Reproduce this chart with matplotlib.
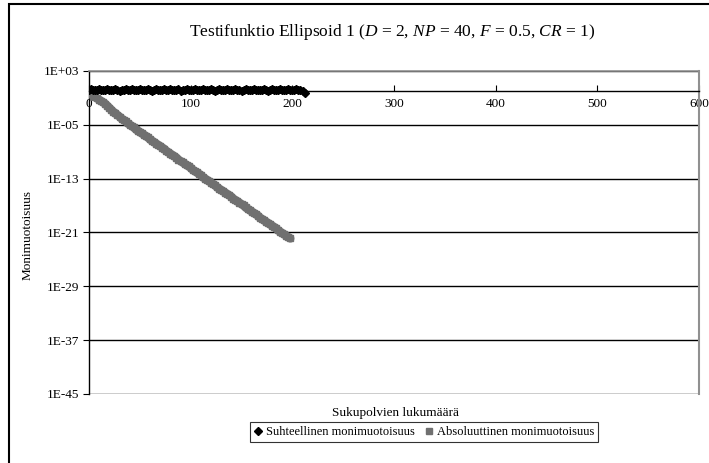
import numpy as np
import matplotlib
matplotlib.use("Agg")
import matplotlib.pyplot as plt
from matplotlib.patches import Rectangle
from matplotlib.lines import Line2D

plt.rcParams['font.family'] = ['Liberation Serif', 'DejaVu Serif']
plt.rcParams['mathtext.fontset'] = 'custom'
plt.rcParams['mathtext.rm'] = 'Liberation Serif'
plt.rcParams['mathtext.it'] = 'Liberation Serif:italic'

# sukupolvet (joka toinen) ja monimuotoisuuden log10-arvot
gen_rel = list(range(0, 214, 2))
log_rel = [0.20, 0.25, 0.20, 0.15, 0.20, 0.25, 0.20, 0.10, 0.20, 0.25,
           0.20, 0.15, 0.20, 0.25, 0.20, 0.05, 0.20, 0.20, 0.25, 0.15,
           0.20, 0.25, 0.20, 0.10, 0.20, 0.25, 0.20, 0.20, 0.15, 0.25,
           0.20, 0.05, 0.20, 0.25, 0.20, 0.20, 0.10, 0.25, 0.20, 0.20,
           0.25, 0.15, 0.20, 0.20, 0.25, 0.05, 0.20, 0.20, 0.25, 0.20,
           0.15, 0.20, 0.25, 0.20, 0.10, 0.20, 0.25, 0.20, 0.20, 0.15,
           0.25, 0.20, 0.05, 0.20, 0.25, 0.20, 0.20, 0.10, 0.25, 0.20,
           0.20, 0.15, 0.25, 0.20, 0.20, 0.05, 0.20, 0.25, 0.20, 0.15,
           0.20, 0.25, 0.20, 0.10, 0.20, 0.20, 0.25, 0.20, 0.05, 0.20,
           0.25, 0.20, 0.15, 0.20, 0.25, 0.20, 0.10, 0.20, 0.25, 0.20,
           0.20, 0.15, 0.25, 0.20, 0.20, 0.05, -0.35]

gen_abs = list(range(0, 200, 2))
log_abs = [-0.2, -0.5, -0.7, -0.9, -1.1, -1.3, -1.5, -1.7, -1.9, -2.2,
           -2.5, -2.8, -3.1, -3.3, -3.6, -3.8, -4.1, -4.3, -4.5, -4.8,
           -5.0, -5.2, -5.4, -5.7, -5.9, -6.1, -6.3, -6.5, -6.7, -6.9,
           -7.2, -7.4, -7.6, -7.8, -8.0, -8.2, -8.4, -8.6, -8.9, -9.1,
           -9.3, -9.5, -9.7, -9.9, -10.2, -10.4, -10.6, -10.8, -11.0, -11.2,
           -11.4, -11.7, -11.9, -12.1, -12.3, -12.5, -12.8, -13.0, -13.2, -13.4,
           -13.6, -13.8, -14.0, -14.3, -14.5, -14.7, -14.9, -15.1, -15.3, -15.5,
           -15.7, -16.0, -16.2, -16.4, -16.6, -16.8, -17.0, -17.3, -17.5, -17.7,
           -17.9, -18.1, -18.3, -18.5, -18.8, -19.0, -19.2, -19.4, -19.6, -19.8,
           -20.0, -20.2, -20.4, -20.7, -20.9, -21.1, -21.3, -21.5, -21.7, -21.9]

ytick_exp = [3, -5, -13, -21, -29, -37, -45]
ytick_labels = ['1E+03', '1E-05', '1E-13', '1E-21', '1E-29', '1E-37', '1E-45']
xticks = [0, 100, 200, 300, 400, 500, 600]

fig = plt.figure(figsize=(7.09, 4.63), dpi=100)
ax = fig.add_axes([89 / 709, 1 - 394 / 463, 610 / 709, (394 - 70.8) / 463])

gray = '#707070'
y_abs = 10.0 ** np.array(log_abs)
y_rel = 10.0 ** np.array(log_rel)
# tiheät merkit piirtyvät yhtenäiseksi nauhaksi
ax.plot(gen_abs, y_abs, linestyle='-', linewidth=6, solid_capstyle='round',
        color=gray, zorder=3)
ax.plot(gen_abs, y_abs, linestyle='none', marker='s', markersize=5,
        color=gray, markeredgecolor=gray, zorder=4)
ax.plot(gen_rel, y_rel, linestyle='-', linewidth=3.5, color='black', zorder=5)
ax.plot(gen_rel, y_rel, linestyle='none', marker='D', markersize=3.8,
        color='black', zorder=6)

ax.set_yscale('log')
ax.set_ylim(1e-45, 1e3)
ax.set_xlim(0, 600)
ax.set_yticks([10.0 ** e for e in ytick_exp])
ax.set_yticklabels(ytick_labels)
ax.yaxis.set_minor_locator(matplotlib.ticker.NullLocator())
ax.set_xticks(xticks)
ax.set_xticklabels([str(t) for t in xticks])

for e in ytick_exp:
    ax.axhline(10.0 ** e, color='black', linewidth=1.0, zorder=1)

ax.spines['bottom'].set_position(('data', 1))
ax.spines['bottom'].set_linewidth(1.0)
ax.spines['left'].set_linewidth(1.0)
ax.spines['top'].set_color('#909090')
ax.spines['right'].set_color('#909090')
ax.spines['top'].set_linewidth(1.2)
ax.spines['right'].set_linewidth(1.5)

ax.tick_params(axis='x', direction='in', length=4, labelsize=9.5, pad=5)
ax.tick_params(axis='y', direction='out', length=4, labelsize=9.5, pad=3)

fig.text(392 / 709, 1 - 32 / 463,
         r'Testifunktio Ellipsoid 1 ($D$ = 2, $NP$ = 40, $F$ = 0.5, $CR$ = 1)',
         ha='center', va='center', fontsize=12.5)
fig.text(395 / 709, 1 - 413 / 463, 'Sukupolvien lukumäärä',
         ha='center', va='center', fontsize=9.5)
fig.text(28 / 709, 1 - 235 / 463, 'Monimuotoisuus', rotation=90,
         ha='center', va='center', fontsize=9.5)

handles = [Line2D([], [], linestyle='none', marker='D', markersize=4, color='black'),
           Line2D([], [], linestyle='none', marker='s', markersize=5, color=gray)]
leg = fig.legend(handles, ['Suhteellinen monimuotoisuus', 'Absoluuttinen monimuotoisuus'],
                 loc='center', bbox_to_anchor=(424 / 709, 1 - 432 / 463), ncol=2,
                 fontsize=9, frameon=True, fancybox=False, handlelength=0.7,
                 handletextpad=0.3, columnspacing=0.8, borderpad=0.3)
leg.get_frame().set_edgecolor('black')
leg.get_frame().set_linewidth(0.8)

fig.patches.append(Rectangle((9 / 709, -0.02), 1.02, 1 - 4 / 463 + 0.02,
                             transform=fig.transFigure, fill=False,
                             edgecolor='black', linewidth=1.5))

fig.savefig('out.png', dpi=100)
